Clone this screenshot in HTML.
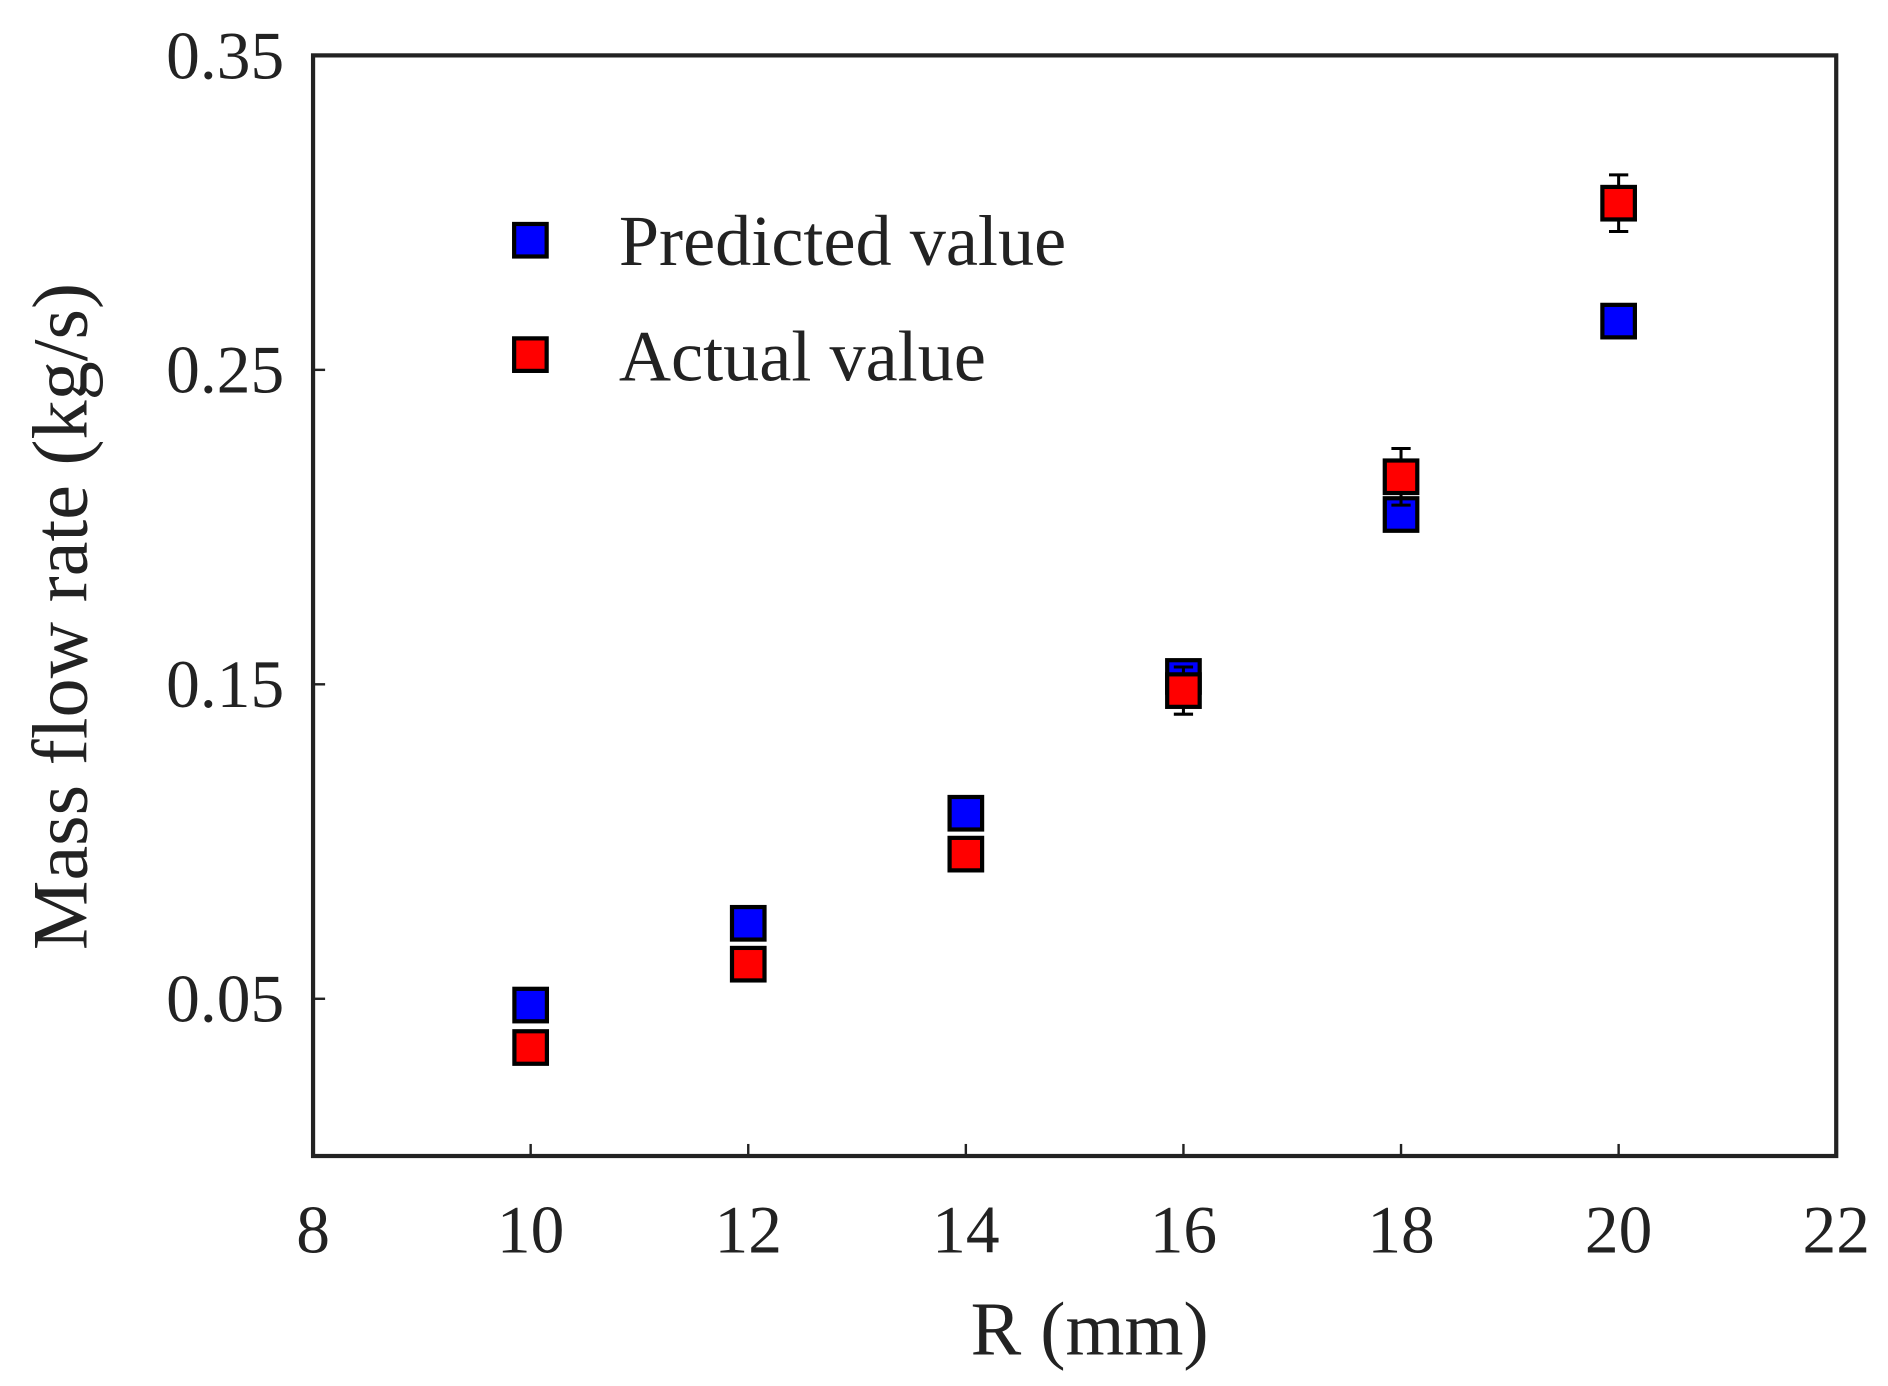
<!DOCTYPE html>
<html><head><meta charset="utf-8"><style>html,body{margin:0;padding:0;background:#fff}svg{display:block}</style></head>
<body>
<svg id="chart" width="1888" height="1386" viewBox="0 0 1568 1151" preserveAspectRatio="none" xmlns="http://www.w3.org/2000/svg" font-family="'Liberation Serif', serif" fill="#222">
<rect x="260" y="46" width="1265" height="914" fill="none" stroke="#222" stroke-width="3.5"/>
<g id="ticks"></g>
<g id="marks"></g>
<text x="905" y="1125" font-size="63" text-anchor="middle">R (mm)</text>
<text transform="translate(72,512) rotate(-90)" font-size="65" text-anchor="middle">Mass flow rate (kg/s)</text>
<g>
<rect x="427" y="186" width="27" height="27" fill="#0000ff" stroke="#000" stroke-width="3.5"/>
<text x="514" y="220" font-size="60">Predicted value</text>
<rect x="427" y="281" width="27" height="27" fill="#ff0000" stroke="#000" stroke-width="3.5"/>
<text x="514" y="316" font-size="60">Actual value</text>
</g>
</svg>
<script>
const categories = [10, 12, 14, 16, 18, 20];
const predicted = [0.048, 0.074, 0.109, 0.1525, 0.204, 0.2655];
const actual = [0.0345, 0.061, 0.096, 0.148, 0.216, 0.303];
const actualErr = [0.003, 0.003, 0.003, 0.0075, 0.009, 0.009];
const xTicks = [8, 10, 12, 14, 16, 18, 20, 22];
const yTicks = [0.05, 0.15, 0.25, 0.35];
const yTickLabels = ["0.05", "0.15", "0.25", "0.35"];

const NS = "http://www.w3.org/2000/svg";
const X0 = 260, X1 = 1525, Y0 = 960, Y1 = 46;
const xScale = v => X0 + (v - 8) / 14 * (X1 - X0);
const yScale = v => Y0 - v / 0.35 * (Y0 - Y1);
function mk(tag, attrs, parent) {
  const el = document.createElementNS(NS, tag);
  for (const k in attrs) el.setAttribute(k, attrs[k]);
  parent.appendChild(el);
  return el;
}
const ticks = document.getElementById('ticks');
const marks = document.getElementById('marks');
xTicks.forEach(v => {
  const x = xScale(v);
  const t = mk('line', {x1: x, x2: x, y1: Y0, y2: Y0 - 10, stroke: '#222', 'stroke-width': 2}, ticks);
  
  
  const l = mk('text', {x: x, y: 1040, 'font-size': 56, 'text-anchor': 'middle'}, ticks);
  l.textContent = v;
  
  
});
yTicks.forEach((v, i) => {
  const y = yScale(v);
  const t = mk('line', {x1: X0, x2: X0 + 10, y1: y, y2: y, stroke: '#222', 'stroke-width': 2}, ticks);
  
  
  const l = mk('text', {x: 236, y: y + 19, 'font-size': 56, 'text-anchor': 'end'}, ticks);
  l.textContent = yTickLabels[i];
  
  
});
const S = 27;
categories.forEach((c, i) => {
  const x = xScale(c);
  const yp = yScale(predicted[i]);
  const p = mk('rect', {x: x - S / 2, y: yp - S / 2, width: S, height: S, fill: '#0000ff', stroke: '#000', 'stroke-width': 3.5}, marks);
  
  
});
categories.forEach((c, i) => {
  const x = xScale(c);
  const ya = yScale(actual[i]);
  const yt = yScale(actual[i] + actualErr[i]), yb = yScale(actual[i] - actualErr[i]);
  const e = mk('path', {d: `M${x},${yt}V${yb}M${x - 8},${yt}H${x + 8}M${x - 8},${yb}H${x + 8}`, stroke: '#000', 'stroke-width': 2.5, fill: 'none'}, marks);
  
  
  const a = mk('rect', {x: x - S / 2, y: ya - S / 2, width: S, height: S, fill: '#ff0000', stroke: '#000', 'stroke-width': 3.5}, marks);
  
  
});
</script>
</body></html>
